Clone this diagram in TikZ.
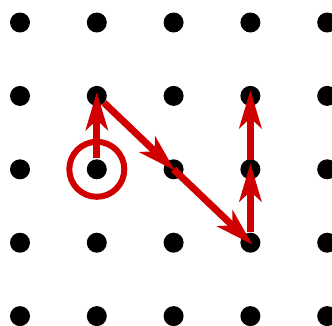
\documentclass[tikz,border=0pt]{standalone}
\usetikzlibrary{arrows.meta}
\definecolor{markRed}{RGB}{208,0,0}

\begin{document}
\begin{tikzpicture}[
  x=1pt, y=-1pt,
  %% Grid dot style
  dot/.style={circle, fill=black, minimum size=20pt, inner sep=0pt},
  %% Red move arrow
  rarr/.style={-{Stealth[length=38pt,width=22pt,inset=10pt]},
    line width=7pt, color=markRed},
  %% Start marker ring
  ring/.style={circle, draw=markRed, line width=6pt,
    minimum size=55pt, inner sep=0pt},
]

%% ── Frame (image size) ─────────────────────────────────────────────────────
\useasboundingbox[fill=white] (0,0) rectangle (332,325);

%% ── Grid origin and spacing ─────────────────────────────────────────────────
\def\xO{20}
\def\yO{22.5}
\def\dx{76.8}
\def\dy{73.4}

%% ── DOT GRID ────────────────────────────────────────────────────────────────
\foreach \c in {0,...,4}
  \foreach \r in {0,...,4}
    \node[dot] (dot-\c-\r) at ({\xO+\dx*\c},{\yO+\dy*\r}) {};

%% ── START RING ──────────────────────────────────────────────────────────────
\node[ring] (start) at (dot-1-2.center) {};

%% ── MOVES ───────────────────────────────────────────────────────────────────
\draw[rarr, shorten <=11pt, shorten >=-4pt]
  (dot-1-2.center) -- (dot-1-1.center);
\draw[rarr, shorten <=10pt, shorten >=-2pt]
  (dot-1-1.center) -- (dot-2-2.center);
\draw[rarr, shorten >=-3pt]
  (dot-2-2.center) -- (dot-3-3.center);
\draw[rarr, shorten <=11pt, shorten >=-6pt]
  (dot-3-3.center) -- (dot-3-2.center);
\draw[rarr, shorten <=9pt, shorten >=-6pt]
  (dot-3-2.center) -- (dot-3-1.center);

\end{tikzpicture}
\end{document}
